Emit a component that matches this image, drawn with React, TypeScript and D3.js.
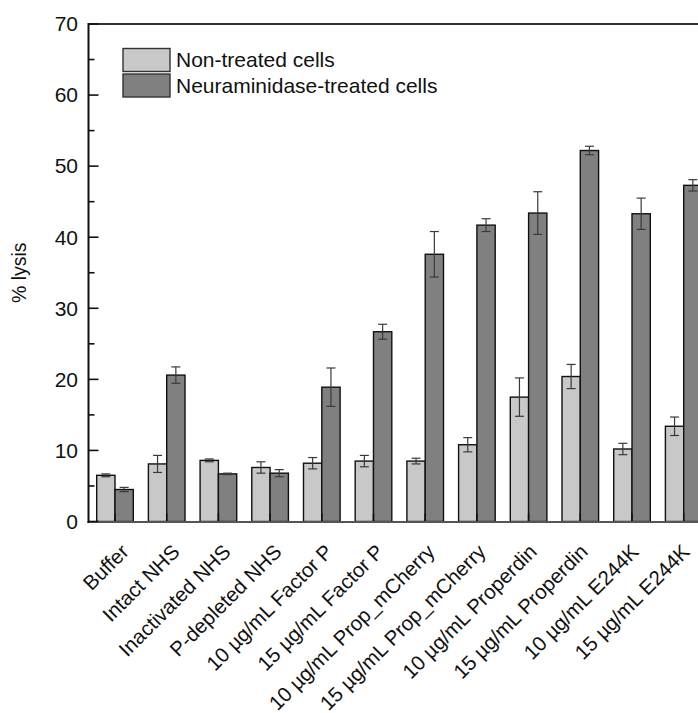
import React from "react";
import * as d3 from "d3";

const categories = [
  "Buffer",
  "Intact NHS",
  "Inactivated NHS",
  "P-depleted NHS",
  "10 µg/mL Factor P",
  "15 µg/mL Factor P",
  "10 µg/mL Prop_mCherry",
  "15 µg/mL Prop_mCherry",
  "10 µg/mL Properdin",
  "15 µg/mL Properdin",
  "10 µg/mL E244K",
  "15 µg/mL E244K",
];
const nonTreated = [6.5, 8.1, 8.6, 7.6, 8.2, 8.5, 8.5, 10.8, 17.5, 20.4, 10.2, 13.4];
const nonTreatedErr = [0.2, 1.2, 0.2, 0.8, 0.8, 0.8, 0.4, 1.0, 2.7, 1.7, 0.8, 1.3];
const treated = [4.5, 20.6, 6.7, 6.8, 18.9, 26.7, 37.6, 41.7, 43.4, 52.2, 43.3, 47.3];
const treatedErr = [0.3, 1.15, 0.1, 0.5, 2.7, 1.05, 3.2, 0.9, 3.0, 0.6, 2.2, 0.8];
const seriesNames = ["Non-treated cells", "Neuraminidase-treated cells"];
const seriesColors = ["#c8c8c8", "#808080"];
const yMajorTicks = [0, 10, 20, 30, 40, 50, 60, 70];
const yMinorTicks = [5, 15, 25, 35, 45, 55, 65];

const FONT = "'Liberation Sans', Arial, Helvetica, sans-serif";

export default function App() {
  const W = 698;
  const H = 713;
  const left = 88.5;
  const top = 24;
  const bottom = 521.5;
  const step = 51.7;
  const rangeStart = 89.15;

  const y = d3.scaleLinear().domain([0, 70]).range([bottom, top]);
  const x = d3
    .scaleBand<string>()
    .domain(categories)
    .range([rangeStart, rangeStart + step * categories.length])
    .paddingInner(0.292)
    .paddingOuter(0.146);
  const sub = d3.scaleBand<number>().domain([0, 1]).range([0, x.bandwidth()]);
  // label anchors (rotated tick labels, slightly tighter than the bar groups)
  const xLabel = d3.scalePoint<string>().domain(categories).range([130, 691]);

  const series = [
    { vals: nonTreated, errs: nonTreatedErr },
    { vals: treated, errs: treatedErr },
  ];

  return (
    <svg
      width={W}
      height={H}
      style={{ position: "absolute", left: 0, top: 0, background: "#fff" }}
      fontFamily={FONT}
    >
      {series.map((s, si) =>
        categories.map((c, i) => {
          const bx = (x(c) as number) + (sub(si) as number);
          const by = y(s.vals[i]);
          return (
            <rect
              key={`b${si}-${i}`}
              x={bx}
              y={by}
              width={sub.bandwidth()}
              height={bottom - by}
              fill={seriesColors[si]}
              stroke="#111"
              strokeWidth={1.4}
            />
          );
        })
      )}
      {series.map((s, si) =>
        categories.map((c, i) => {
          const cx = (x(c) as number) + (sub(si) as number) + sub.bandwidth() / 2;
          const y1 = y(s.vals[i] + s.errs[i]);
          const y2 = y(s.vals[i] - s.errs[i]);
          const cap = 4.5;
          return (
            <g key={`e${si}-${i}`} stroke="#3a3a3a" strokeWidth={1.2}>
              <line x1={cx} x2={cx} y1={y1} y2={y2} />
              <line x1={cx - cap} x2={cx + cap} y1={y1} y2={y1} />
              <line x1={cx - cap} x2={cx + cap} y1={y2} y2={y2} />
            </g>
          );
        })
      )}
      {categories.map((c, i) => {
        const cx = (x(c) as number) + x.bandwidth() / 2;
        return (
          <line key={`bt${i}`} x1={cx} x2={cx} y1={bottom} y2={bottom - 8} stroke="#111" strokeWidth={1.5} />
        );
      })}
      <line x1={left} x2={W + 10} y1={top} y2={top} stroke="#333" strokeWidth={2} />
      <line x1={left - 1} x2={W + 10} y1={bottom + 0.5} y2={bottom + 0.5} stroke="#555" strokeWidth={2} />
      <line x1={left} x2={left} y1={top - 1} y2={bottom + 1.5} stroke="#111" strokeWidth={2} />
      {yMajorTicks.map((t) => (
        <g key={`yt${t}`}>
          <line x1={left} x2={left + 10} y1={y(t)} y2={y(t)} stroke="#111" strokeWidth={1.6} />
          <text x={78} y={y(t)} dy="0.35em" textAnchor="end" fontSize={21} fill="#111">
            {t}
          </text>
        </g>
      ))}
      {yMinorTicks.map((t) => (
        <line key={`ym${t}`} x1={left} x2={left + 6} y1={y(t)} y2={y(t)} stroke="#111" strokeWidth={1.6} />
      ))}
      <text
        transform={`translate(26, ${(top + bottom) / 2}) rotate(-90)`}
        textAnchor="middle"
        fontSize={19.5}
        fill="#111"
      >
        % lysis
      </text>
      {categories.map((c, i) => (
        <text
          key={`xl${i}`}
          transform={`translate(${xLabel(c)}, 553) rotate(-45)`}
          textAnchor="end"
          fontSize={20.5}
          fill="#111"
        >
          {c}
        </text>
      ))}
      {seriesNames.map((n, i) => (
        <g key={`lg${i}`}>
          <rect
            x={123}
            y={48.5 + i * 25.5}
            width={47}
            height={23}
            fill={seriesColors[i]}
            stroke="#333"
            strokeWidth={1.4}
          />
          <text x={176} y={67} fontSize={21} fill="#111" transform={`translate(0, ${i * 25.5})`}>
            {n}
          </text>
        </g>
      ))}
    </svg>
  );
}
